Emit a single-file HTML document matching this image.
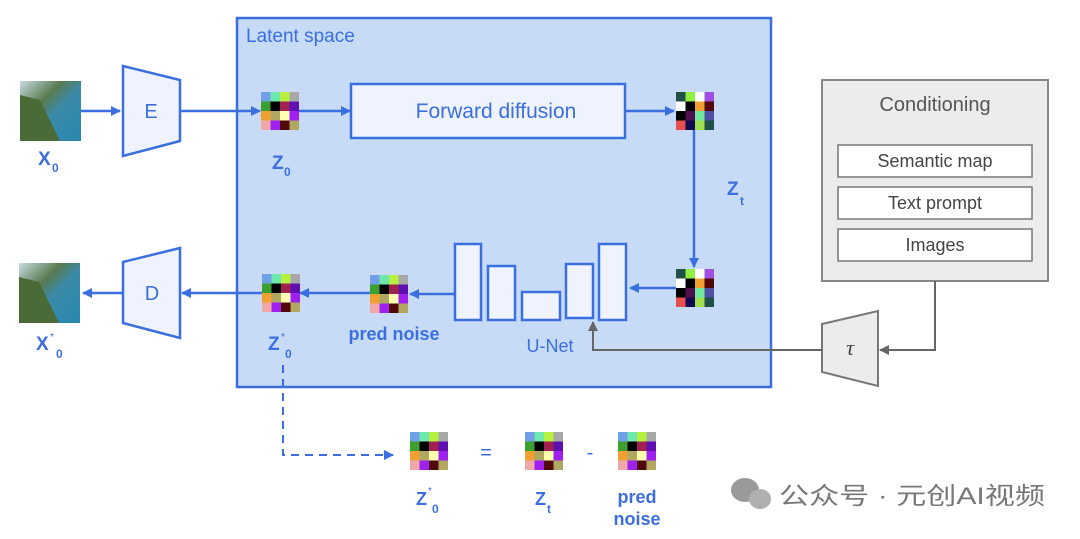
<!DOCTYPE html>
<html><head><meta charset="utf-8"><style>
body{margin:0;background:#fff;}
svg{display:block;font-family:"Liberation Sans","Noto Sans CJK SC",sans-serif;}
</style></head><body>
<svg width="1080" height="539" viewBox="0 0 1080 539" xmlns="http://www.w3.org/2000/svg">
<defs>
<marker id="ab" markerWidth="10" markerHeight="10" refX="9" refY="5" orient="auto" markerUnits="userSpaceOnUse"><path d="M0,0 L10,5 L0,10 z" fill="#3b6fe0"/></marker>
<marker id="ag" markerWidth="10" markerHeight="10" refX="9" refY="5" orient="auto" markerUnits="userSpaceOnUse"><path d="M0,0 L10,5 L0,10 z" fill="#666"/></marker>
<g id="g1">
<rect x="0" y="0" width="9.5" height="9.5" fill="#6fa0e8"/><rect x="9.5" y="0" width="9.5" height="9.5" fill="#6fe8b0"/><rect x="19" y="0" width="9.5" height="9.5" fill="#b8f040"/><rect x="28.5" y="0" width="9.5" height="9.5" fill="#a8a8a8"/>
<rect x="0" y="9.5" width="9.5" height="9.5" fill="#3ca030"/><rect x="9.5" y="9.5" width="9.5" height="9.5" fill="#000"/><rect x="19" y="9.5" width="9.5" height="9.5" fill="#a02050"/><rect x="28.5" y="9.5" width="9.5" height="9.5" fill="#6010b0"/>
<rect x="0" y="19" width="9.5" height="9.5" fill="#f0a030"/><rect x="9.5" y="19" width="9.5" height="9.5" fill="#b0a860"/><rect x="19" y="19" width="9.5" height="9.5" fill="#ffffb0"/><rect x="28.5" y="19" width="9.5" height="9.5" fill="#a020f0"/>
<rect x="0" y="28.5" width="9.5" height="9.5" fill="#f0a8a8"/><rect x="9.5" y="28.5" width="9.5" height="9.5" fill="#a020f0"/><rect x="19" y="28.5" width="9.5" height="9.5" fill="#500808"/><rect x="28.5" y="28.5" width="9.5" height="9.5" fill="#b0a860"/>
</g>
<g id="g2">
<rect x="0" y="0" width="9.5" height="9.5" fill="#205048"/><rect x="9.5" y="0" width="9.5" height="9.5" fill="#90f040"/><rect x="19" y="0" width="9.5" height="9.5" fill="#fff"/><rect x="28.5" y="0" width="9.5" height="9.5" fill="#a050e0"/>
<rect x="0" y="9.5" width="9.5" height="9.5" fill="#fff"/><rect x="9.5" y="9.5" width="9.5" height="9.5" fill="#000"/><rect x="19" y="9.5" width="9.5" height="9.5" fill="#f0a030"/><rect x="28.5" y="9.5" width="9.5" height="9.5" fill="#500808"/>
<rect x="0" y="19" width="9.5" height="9.5" fill="#000"/><rect x="9.5" y="19" width="9.5" height="9.5" fill="#501050"/><rect x="19" y="19" width="9.5" height="9.5" fill="#70e8a0"/><rect x="28.5" y="19" width="9.5" height="9.5" fill="#5050a0"/>
<rect x="0" y="28.5" width="9.5" height="9.5" fill="#e85050"/><rect x="9.5" y="28.5" width="9.5" height="9.5" fill="#100850"/><rect x="19" y="28.5" width="9.5" height="9.5" fill="#a0e050"/><rect x="28.5" y="28.5" width="9.5" height="9.5" fill="#205048"/>
</g>
<linearGradient id="img" x1="0" y1="0" x2="1" y2="1"><stop offset="0" stop-color="#c8dce0"/><stop offset="0.35" stop-color="#5a7a50"/><stop offset="0.55" stop-color="#3a8aa8"/><stop offset="1" stop-color="#2a88b0"/></linearGradient>
</defs>

<rect x="237" y="18" width="534" height="369" fill="#c8dbf6" stroke="#3b6fe0" stroke-width="2.5"/>
<text x="246" y="42" font-size="19" fill="#3b6fe0">Latent space</text>

<rect x="20" y="81" width="61" height="60" fill="url(#img)"/>
<path d="M20,95 L40,100 L60,141 L20,141z" fill="#4a6a38"/>
<rect x="19" y="263" width="61" height="60" fill="url(#img)"/>
<path d="M19,277 L39,282 L59,323 L19,323z" fill="#4a6a38"/>
<text x="38" y="165" font-size="19" font-weight="bold" fill="#3b6fe0">X</text><text x="52" y="172" font-size="12" font-weight="bold" fill="#3b6fe0">0</text>
<text x="36" y="350" font-size="19" font-weight="bold" fill="#3b6fe0">X</text><text x="50" y="340" font-size="10" fill="#3b6fe0">*</text><text x="56" y="358" font-size="12" font-weight="bold" fill="#3b6fe0">0</text>

<polygon points="123,66 180,80 180,141 123,156" fill="#eef3fd" stroke="#3b6fe0" stroke-width="2.5"/>
<text x="151" y="118" font-size="20" fill="#3b6fe0" text-anchor="middle">E</text>
<polygon points="123,262 180,248 180,338 123,323" fill="#eef3fd" stroke="#3b6fe0" stroke-width="2.5"/>
<text x="152" y="300" font-size="20" fill="#3b6fe0" text-anchor="middle">D</text>

<g stroke="#3b6fe0" stroke-width="2.5" fill="none" marker-end="url(#ab)">
<line x1="81" y1="111" x2="120" y2="111"/>
<line x1="180" y1="111" x2="260" y2="111"/>
<line x1="298" y1="111" x2="350" y2="111"/>
<line x1="625" y1="111" x2="674" y2="111"/>
<line x1="694" y1="130" x2="694" y2="267"/>
<line x1="676" y1="288" x2="630" y2="288"/>
<line x1="455" y1="294" x2="410" y2="294"/>
<line x1="370" y1="293" x2="300" y2="293"/>
<line x1="262" y1="293" x2="182" y2="293"/>
<line x1="123" y1="293" x2="83" y2="293"/>
</g>
<path d="M283,365 L283,455 L393,455" stroke="#3b6fe0" stroke-width="2" fill="none" stroke-dasharray="8,6" marker-end="url(#ab)"/>

<use href="#g1" x="261" y="92"/>
<use href="#g2" x="676" y="92"/>
<use href="#g2" x="676" y="269"/>
<use href="#g1" x="370" y="275"/>
<use href="#g1" x="262" y="274"/>
<use href="#g1" x="410" y="432"/>
<use href="#g1" x="525" y="432"/>
<use href="#g1" x="618" y="432"/>

<text x="272" y="169" font-size="19" font-weight="bold" fill="#3b6fe0">Z</text><text x="284" y="176" font-size="12" font-weight="bold" fill="#3b6fe0">0</text>
<text x="727" y="195" font-size="19" font-weight="bold" fill="#3b6fe0">Z</text><text x="740" y="205" font-size="12" font-weight="bold" fill="#3b6fe0">t</text>
<text x="268" y="350" font-size="19" font-weight="bold" fill="#3b6fe0">Z</text><text x="281" y="340" font-size="10" fill="#3b6fe0">*</text><text x="285" y="358" font-size="12" font-weight="bold" fill="#3b6fe0">0</text>

<rect x="351" y="84" width="274" height="54" fill="#eef3fd" stroke="#3b6fe0" stroke-width="2.5"/>
<text x="496" y="118" font-size="21" fill="#3b6fe0" text-anchor="middle">Forward diffusion</text>

<g fill="#eef3fd" stroke="#3b6fe0" stroke-width="2.5">
<rect x="455" y="244" width="26" height="76"/>
<rect x="488" y="266" width="27" height="54"/>
<rect x="522" y="292" width="38" height="28"/>
<rect x="566" y="264" width="27" height="54"/>
<rect x="599" y="244" width="27" height="76"/>
</g>
<text x="394" y="340" font-size="18" font-weight="bold" fill="#3b6fe0" text-anchor="middle">pred noise</text>
<text x="550" y="352" font-size="18" fill="#3b6fe0" text-anchor="middle">U-Net</text>

<rect x="822" y="80" width="226" height="201" fill="#ececec" stroke="#888" stroke-width="2"/>
<text x="935" y="111" font-size="20" fill="#555" text-anchor="middle">Conditioning</text>
<g fill="#fff" stroke="#777" stroke-width="1.5">
<rect x="838" y="145" width="194" height="32"/>
<rect x="838" y="187" width="194" height="32"/>
<rect x="838" y="229" width="194" height="32"/>
</g>
<g font-size="18" fill="#444" text-anchor="middle">
<text x="935" y="167">Semantic map</text>
<text x="935" y="209">Text prompt</text>
<text x="935" y="251">Images</text>
</g>
<polygon points="822,324 878,311 878,386 822,372" fill="#ececec" stroke="#777" stroke-width="2"/>
<text x="850" y="355" font-size="22" font-style="italic" fill="#444" text-anchor="middle" font-family="Liberation Serif,serif">τ</text>
<path d="M935,281 L935,350 L880,350" stroke="#666" stroke-width="2" fill="none" marker-end="url(#ag)"/>
<path d="M822,350 L593,350 L593,322" stroke="#666" stroke-width="2" fill="none" marker-end="url(#ag)"/>

<text x="486" y="459" font-size="20" fill="#3b6fe0" text-anchor="middle">=</text>
<text x="590" y="459" font-size="20" fill="#3b6fe0" text-anchor="middle">-</text>
<text x="416" y="505" font-size="18" font-weight="bold" fill="#3b6fe0">Z</text><text x="428" y="494" font-size="10" fill="#3b6fe0">*</text><text x="432" y="513" font-size="12" font-weight="bold" fill="#3b6fe0">0</text>
<text x="535" y="505" font-size="18" font-weight="bold" fill="#3b6fe0">Z</text><text x="547" y="513" font-size="12" font-weight="bold" fill="#3b6fe0">t</text>
<text x="637" y="503" font-size="18" font-weight="bold" fill="#3b6fe0" text-anchor="middle">pred</text>
<text x="637" y="525" font-size="18" font-weight="bold" fill="#3b6fe0" text-anchor="middle">noise</text>

<ellipse cx="745" cy="490" rx="14" ry="12" fill="#9a9a9a"/>
<ellipse cx="760" cy="499" rx="11" ry="10" fill="#b0b0b0"/>
<text x="779" y="504" font-size="24" fill="#777" textLength="266" lengthAdjust="spacingAndGlyphs">公众号 · 元创AI视频</text>
</svg>
</body></html>
